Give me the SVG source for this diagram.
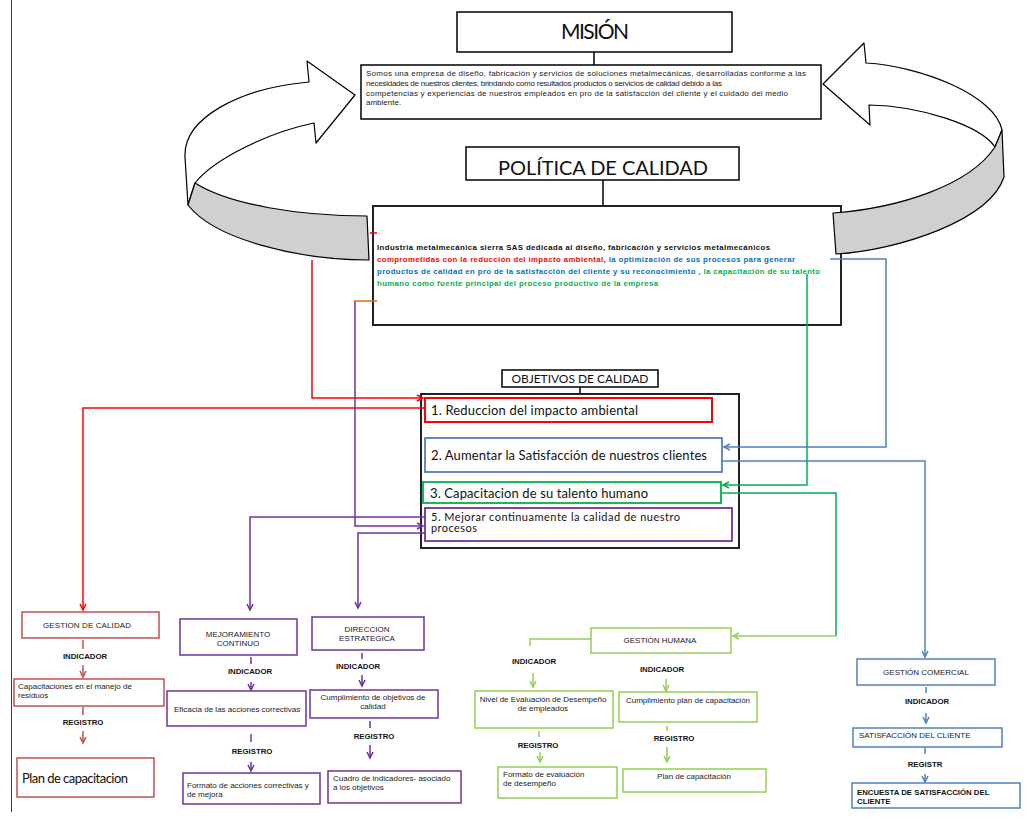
<svg xmlns="http://www.w3.org/2000/svg" width="1031" height="819" viewBox="0 0 1031 819">
<style>
.bx{fill:#fff;stroke:#000;stroke-width:1.5}
.bk{fill:#fff;stroke:#222;stroke-width:2}
.rib{fill:#fff;stroke:#000;stroke-width:1.2;stroke-linejoin:round}
.grey{fill:#d0d0d0;stroke:#000;stroke-width:1.2;stroke-linejoin:round}
.a{font-family:"Liberation Sans",Arial,sans-serif;font-size:8px;fill:#222}
.ab{font-family:"Liberation Sans",Arial,sans-serif;font-size:7.8px;font-weight:bold;fill:#111}
.c{font-family:Lato,"Liberation Sans",sans-serif;fill:#111}
.ln{fill:none;stroke-width:1.5}
.red{stroke:#ff0000}.dred{stroke:#c0504d}.blu{stroke:#4f81bd}.grn{stroke:#00b050}.lgr{stroke:#92d050}.pur{stroke:#7030a0}.org{stroke:#e46c0a}
.mid{text-anchor:middle}
</style>
<defs>
<marker id="mr" markerUnits="userSpaceOnUse" markerWidth="10" markerHeight="10" refX="7" refY="4" orient="auto"><path d="M1,1 L7,4 L1,7" fill="none" stroke="#ff0000" stroke-width="1.5"/></marker>
<marker id="mdr" markerUnits="userSpaceOnUse" markerWidth="10" markerHeight="10" refX="7" refY="4" orient="auto"><path d="M1,1 L7,4 L1,7" fill="none" stroke="#c0504d" stroke-width="1.5"/></marker>
<marker id="mb" markerUnits="userSpaceOnUse" markerWidth="10" markerHeight="10" refX="7" refY="4" orient="auto"><path d="M1,1 L7,4 L1,7" fill="none" stroke="#4f81bd" stroke-width="1.5"/></marker>
<marker id="mg" markerUnits="userSpaceOnUse" markerWidth="10" markerHeight="10" refX="7" refY="4" orient="auto"><path d="M1,1 L7,4 L1,7" fill="none" stroke="#00b050" stroke-width="1.5"/></marker>
<marker id="mlg" markerUnits="userSpaceOnUse" markerWidth="10" markerHeight="10" refX="7" refY="4" orient="auto"><path d="M1,1 L7,4 L1,7" fill="none" stroke="#92d050" stroke-width="1.5"/></marker>
<marker id="mp" markerUnits="userSpaceOnUse" markerWidth="10" markerHeight="10" refX="7" refY="4" orient="auto"><path d="M1,1 L7,4 L1,7" fill="none" stroke="#7030a0" stroke-width="1.5"/></marker>
</defs>
<rect width="1031" height="819" fill="#fff"/>
<line x1="11.5" y1="0" x2="11.5" y2="812" stroke="#2e3192" stroke-width="1"/>

<g id="mision">
<line x1="594" y1="52" x2="594" y2="65" stroke="#000" stroke-width="1.5"/>
<rect class="bx" x="457" y="12" width="275" height="40"/>
<text class="c mid" x="595" y="39" font-size="21" textLength="68">MISIÓN</text>
</g>
<g id="mision-texto">
<rect class="bx" x="361" y="65" width="460" height="54"/>
<text class="a" x="366" y="76" textLength="440">Somos una empresa de diseño, fabricación y servicios de soluciones metalmecánicas, desarrolladas conforme a las</text>
<text class="a" x="366" y="86" textLength="356">necesidades de nuestros  clientes, brindando como resultados productos o servicios de calidad debido a las</text>
<text class="a" x="366" y="96" textLength="422">competencias y experiencias de nuestros empleados en  pro de la satisfacción del cliente y el cuidado del medio</text>
<text class="a" x="366" y="105">ambiente.</text>
</g>
<g id="politica">
<line x1="603" y1="180" x2="603" y2="206" stroke="#000" stroke-width="1.5"/>
<rect class="bx" x="466" y="147" width="273" height="33"/>
<text class="c mid" x="603" y="175" font-size="20" textLength="210">POLÍTICA DE CALIDAD</text>
</g>
<g id="politica-texto">
<rect class="bk" x="373" y="206" width="468" height="119"/>
<text class="ab" x="377" y="250" textLength="393">Industria metalmecánica  sierra SAS dedicada al diseño, fabricación y servicios metalmecánicos</text>
<text class="ab" x="377" y="262" textLength="418"><tspan fill="#ff0000">comprometidas con la reducción del impacto ambiental</tspan><tspan fill="#222">,</tspan><tspan fill="#0070c0"> la optimización de sus procesos para generar</tspan></text>
<text class="ab" x="377" y="274" textLength="443"><tspan fill="#0070c0">productos de calidad en pro de la satisfacción del cliente y su reconocimiento ,</tspan><tspan fill="#00b050"> la capacitación de su talento</tspan></text>
<text class="ab" x="377" y="286" textLength="281"><tspan fill="#00b050">humano como fuente principal del proceso productivo de la empresa</tspan></text>
</g>
<g id="flecha-izq">
<path class="rib" d="M309,82 L307,61 L355,95 L316,143 L314,123 C270,132 215,158 195,183 L188,205 L185,157 C183,118 240,88 309,82 Z"/>
<path class="grey" d="M195,183 C230,205 300,216 367,216 L369,260 C300,260 215,240 188,205 Z"/>
</g>
<g id="flecha-der">
<path class="rib" d="M866,63 L864,43 L823,84 L870,125 L869,105 C920,106 980,125 995,147 L1002,130 C995,95 920,66 866,63 Z"/>
<path class="grey" d="M995,147 L1002,130 L1004,177 C990,220 900,250 836,254 L833,213 C900,208 970,185 995,147 Z"/>
</g>

<g id="objetivos">
<line x1="580" y1="387" x2="580" y2="394" stroke="#000" stroke-width="1.5"/>
<rect class="bx" x="502" y="370" width="156" height="17"/>
<text class="c mid" x="580" y="383" font-size="12" textLength="137">OBJETIVOS DE CALIDAD</text>
<rect class="bk" x="421" y="394" width="318" height="154"/>
</g>
<g id="obj1">
<rect x="425" y="398" width="287" height="24" fill="#fff" stroke="#ff0000" stroke-width="2"/>
<text class="c" x="431" y="415" font-size="13" textLength="207">1. Reduccion del impacto ambiental</text>
</g>
<g id="obj2">
<rect x="425" y="438" width="297" height="34" fill="#fff" stroke="#4f81bd" stroke-width="1.8"/>
<text class="c" x="431" y="460" font-size="13" textLength="276">2. Aumentar la Satisfacción de nuestros clientes</text>
</g>
<g id="obj3">
<rect x="423" y="482" width="298" height="21" fill="#fff" stroke="#00b050" stroke-width="1.8"/>
<text class="c" x="430" y="498" font-size="13" textLength="218">3. Capacitacion de su talento humano</text>
</g>
<g id="obj5">
<rect x="425" y="508" width="307" height="33" fill="#fff" stroke="#7030a0" stroke-width="1.8"/>
<text class="c" x="431" y="521" font-size="11" textLength="249">5. Mejorar continuamente la calidad de nuestro</text>
<text class="c" x="431" y="532" font-size="11" textLength="46">procesos</text>
</g>

<g id="connectors">
<path class="ln red" d="M312,260 V398 H423" marker-end="url(#mr)"/>
<path class="ln red" d="M425,408 H83 V610" marker-end="url(#mr)"/>
<path class="ln pur" d="M355,301 V526 H423" marker-end="url(#mp)"/>
<path class="ln pur" d="M425,517 H250 V610" marker-end="url(#mp)"/>
<path class="ln pur" d="M425,533 H358 V608" marker-end="url(#mp)"/>
<path class="ln org" d="M354,301 H377"/>
<path class="ln red" d="M370,233 H377"/>
<path class="ln blu" d="M830,259 H886 V447 H724" marker-end="url(#mb)"/>
<path class="ln blu" d="M722,461 H925 V657" marker-end="url(#mb)"/>
<path class="ln grn" d="M807,274 V485 H723" marker-end="url(#mg)"/>
<path class="ln grn" d="M721,493 H836 V636"/>
<path class="ln lgr" d="M836,636 H733" marker-end="url(#mlg)"/>
<path class="ln lgr" d="M591,639 H530 V646"/>
</g>

<g id="gestion-calidad">
<rect x="22" y="612" width="137" height="26" fill="#fff" stroke="#c0504d" stroke-width="1.5"/>
<text class="a mid" x="87" y="628" textLength="88">GESTION DE CALIDAD</text>
<line class="ln dred" x1="83" y1="640" x2="83" y2="649"/>
<text class="ab mid" x="85" y="659">INDICADOR</text>
<line class="ln dred" x1="83" y1="665" x2="83" y2="677" marker-end="url(#mdr)"/>
<rect x="14" y="679" width="150" height="27" fill="#fff" stroke="#c0504d" stroke-width="1.5"/>
<text class="a" x="18" y="689">Capacitaciones en el manejo de</text>
<text class="a" x="18" y="698">residuos</text>
<line class="ln dred" x1="83" y1="707" x2="83" y2="715"/>
<text class="ab mid" x="83" y="725">REGISTRO</text>
<line class="ln dred" x1="83" y1="731" x2="83" y2="743" marker-end="url(#mdr)"/>
<rect x="17" y="758" width="137" height="39" fill="#fff" stroke="#c0504d" stroke-width="1.5"/>
<text class="c" x="22" y="783" font-size="13" textLength="106">Plan de capacitacion</text>
</g>

<g id="mejoramiento">
<rect x="180" y="619" width="117" height="36" fill="#fff" stroke="#7030a0" stroke-width="1.5"/>
<text class="a mid" x="238" y="637">MEJORAMIENTO</text>
<text class="a mid" x="238" y="646">CONTINUO</text>
<line class="ln pur" x1="251" y1="657" x2="251" y2="664"/>
<text class="ab mid" x="250" y="674">INDICADOR</text>
<line class="ln pur" x1="251" y1="682" x2="251" y2="690" marker-end="url(#mp)"/>
<rect x="167" y="691" width="139" height="35" fill="#fff" stroke="#7030a0" stroke-width="1.5"/>
<text class="a" x="174" y="712" font-size="7.5">Eficacia de las acciones correctivas</text>
<line class="ln pur" x1="251" y1="734" x2="251" y2="742"/>
<text class="ab mid" x="252" y="754">REGISTRO</text>
<line class="ln pur" x1="251" y1="762" x2="251" y2="771" marker-end="url(#mp)"/>
<rect x="183" y="773" width="137" height="31" fill="#fff" stroke="#7030a0" stroke-width="1.5"/>
<text class="a" x="187" y="788" font-size="7.5">Formato de acciones correctivas y</text>
<text class="a" x="187" y="797" font-size="7.5">de mejora</text>
</g>

<g id="direccion">
<rect x="312" y="617" width="112" height="33" fill="#fff" stroke="#7030a0" stroke-width="1.5"/>
<text class="a mid" x="367" y="632">DIRECCION</text>
<text class="a mid" x="367" y="641">ESTRATEGICA</text>
<line class="ln pur" x1="362" y1="653" x2="362" y2="659"/>
<text class="ab mid" x="358" y="669">INDICADOR</text>
<line class="ln pur" x1="362" y1="675" x2="362" y2="686" marker-end="url(#mp)"/>
<rect x="310" y="690" width="128" height="28" fill="#fff" stroke="#7030a0" stroke-width="1.5"/>
<text class="a mid" x="373" y="700" font-size="7.5">Cumplimiento de objetivos de</text>
<text class="a mid" x="373" y="709" font-size="7.5">calidad</text>
<line class="ln pur" x1="370" y1="721" x2="370" y2="728"/>
<text class="ab mid" x="374" y="739">REGISTRO</text>
<line class="ln pur" x1="370" y1="745" x2="370" y2="758" marker-end="url(#mp)"/>
<rect x="328" y="771" width="133" height="32" fill="#fff" stroke="#7030a0" stroke-width="1.5"/>
<text class="a" x="333" y="781" font-size="7.5">Cuadro de indicadores- asociado</text>
<text class="a" x="333" y="790" font-size="7.5">a  los objetivos</text>
</g>

<g id="gestion-humana">
<rect x="591" y="628" width="140" height="25" fill="#fff" stroke="#92d050" stroke-width="1.5"/>
<text class="a mid" x="660" y="643">GESTIÓN HUMANA</text>
<text class="ab mid" x="534" y="664">INDICADOR</text>
<line class="ln lgr" x1="533" y1="673" x2="533" y2="687" marker-end="url(#mlg)"/>
<rect x="475" y="691" width="138" height="37" fill="#fff" stroke="#92d050" stroke-width="1.5"/>
<text class="a mid" x="543" y="702" font-size="7.5">Nivel de Evaluación de Desempeño</text>
<text class="a mid" x="543" y="711" font-size="7.5">de empleados</text>
<line class="ln lgr" x1="539" y1="731" x2="539" y2="737"/>
<text class="ab mid" x="538" y="748">REGISTRO</text>
<line class="ln lgr" x1="540" y1="752" x2="540" y2="762" marker-end="url(#mlg)"/>
<rect x="498" y="767" width="119" height="31" fill="#fff" stroke="#92d050" stroke-width="1.5"/>
<text class="a" x="503" y="777" font-size="7.5">Formato de evaluación</text>
<text class="a" x="503" y="786" font-size="7.5">de desempeño</text>
<text class="ab mid" x="662" y="672">INDICADOR</text>
<line class="ln lgr" x1="666" y1="679" x2="666" y2="691" marker-end="url(#mlg)"/>
<rect x="619" y="692" width="138" height="30" fill="#fff" stroke="#92d050" stroke-width="1.5"/>
<text class="a mid" x="688" y="703" font-size="7.5">Cumplimiento plan de capacitación</text>
<line class="ln lgr" x1="667" y1="726" x2="667" y2="731"/>
<text class="ab mid" x="674" y="741">REGISTRO</text>
<line class="ln lgr" x1="667" y1="747" x2="667" y2="762" marker-end="url(#mlg)"/>
<rect x="623" y="769" width="143" height="23" fill="#fff" stroke="#92d050" stroke-width="1.5"/>
<text class="a mid" x="694" y="779" font-size="7.5">Plan  de capacitación</text>
</g>

<g id="gestion-comercial">
<rect x="857" y="659" width="138" height="26" fill="#fff" stroke="#4f81bd" stroke-width="1.5"/>
<text class="a mid" x="926" y="675">GESTIÓN COMERCIAL</text>
<line class="ln blu" x1="926" y1="687" x2="926" y2="693"/>
<text class="ab mid" x="927" y="704">INDICADOR</text>
<line class="ln blu" x1="926" y1="713" x2="926" y2="723" marker-end="url(#mb)"/>
<rect x="853" y="728" width="149" height="19" fill="#fff" stroke="#4f81bd" stroke-width="1.5"/>
<text class="a" x="859" y="738">SATISFACCIÓN DEL CLIENTE</text>
<line class="ln blu" x1="925" y1="747" x2="925" y2="754"/>
<text class="ab mid" x="925" y="767">REGISTR</text>
<line class="ln blu" x1="925" y1="774" x2="925" y2="782" marker-end="url(#mb)"/>
<rect x="852" y="783" width="168" height="25" fill="#fff" stroke="#4f81bd" stroke-width="1.5"/>
<text class="ab" x="857" y="795">ENCUESTA DE SATISFACCIÓN DEL</text>
<text class="ab" x="857" y="804">CLIENTE</text>
</g>
</svg>
